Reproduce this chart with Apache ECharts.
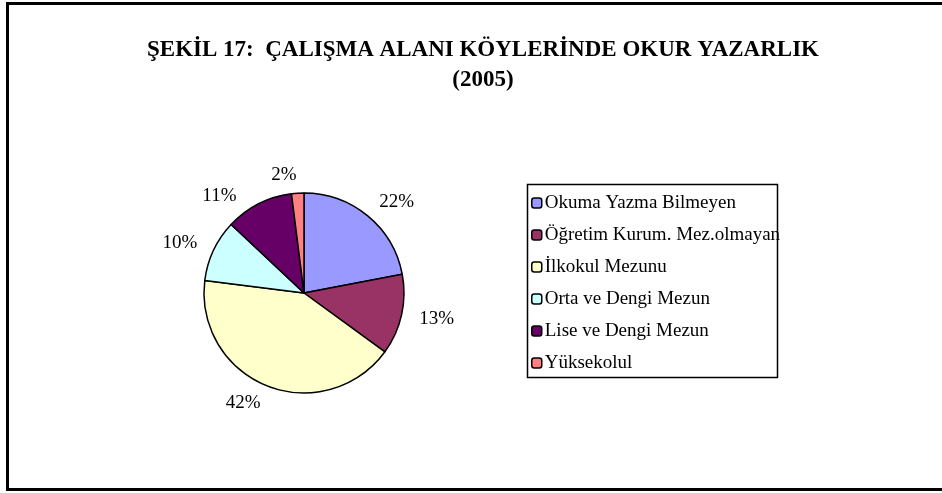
<!DOCTYPE html>
<html>
<head>
<meta charset="utf-8">
<script src="https://cdn.jsdelivr.net/npm/echarts@6/dist/echarts.min.js"></script>
<style>
  html, body { margin: 0; padding: 0; background: #fff; }
  #chart { width: 942px; height: 493px; }
</style>
</head>
<body>
<div id="chart"></div>
<script>
// veriler
const categories = ['Okuma Yazma Bilmeyen', 'Öğretim Kurum. Mez.olmayan', 'İlkokul Mezunu', 'Orta ve Dengi Mezun', 'Lise ve Dengi Mezun', 'Yüksekolul'];
const shares = [22, 13, 42, 10, 11, 2];
const colors = ['#9999ff', '#993366', '#ffffcc', '#ccffff', '#660066', '#ff8080'];

document.addEventListener('DOMContentLoaded', () => {
    const chart = echarts.init(document.getElementById('chart'));
    const font = '"Liberation Serif", "Times New Roman", serif';

    chart.setOption({
        animation: false,
        textStyle: { fontFamily: font },
        graphic: [{
            type: 'rect',
            shape: { x: 7.5, y: 3.5, width: 960, height: 486 },
            style: { fill: 'none', stroke: '#000', lineWidth: 3 }
        }, {
            // lejant çerçevesi
            type: 'rect',
            shape: { x: 527.5, y: 184.5, width: 250, height: 193 },
            style: { fill: 'none', stroke: '#000', lineWidth: 1.5 }
        }],
        title: {
            text: 'ŞEKİL 17:  ÇALIŞMA ALANI KÖYLERİNDE OKUR YAZARLIK\n(2005)',
            left: 478,
            textAlign: 'center',
            top: 30,
            textStyle: { fontFamily: font, fontSize: 23, fontWeight: 'bold', color: '#000', lineHeight: 30 }
        },
        legend: {
            orient: 'vertical',
            left: 527,
            top: 193,
            padding: [0, 0, 0, 4],
            itemGap: 12,
            itemWidth: 10,
            itemHeight: 10,
            data: categories,
            itemStyle: { borderColor: '#000', borderWidth: 1.5 },
            textStyle: { fontFamily: font, fontSize: 19, lineHeight: 20, color: '#000', padding: [0, 0, 0, -2] }
        },
        color: colors,
        series: [{
            type: 'pie',
            center: [304, 293],
            radius: 100,
            startAngle: 90,
            clockwise: true,
            label: {
                show: true,
                position: 'outside',
                formatter: '{c}%',
                fontFamily: font,
                fontSize: 19,
                color: '#000',
                distanceToLabelLine: 0
            },
            labelLine: { show: false, length: 18, length2: 0 },
            itemStyle: { borderColor: '#000', borderWidth: 1.5 },
            emphasis: { disabled: true },
            data: categories.map((name, i) => ({ name: name, value: shares[i] }))
        }]
    });
});
</script>
</body>
</html>
